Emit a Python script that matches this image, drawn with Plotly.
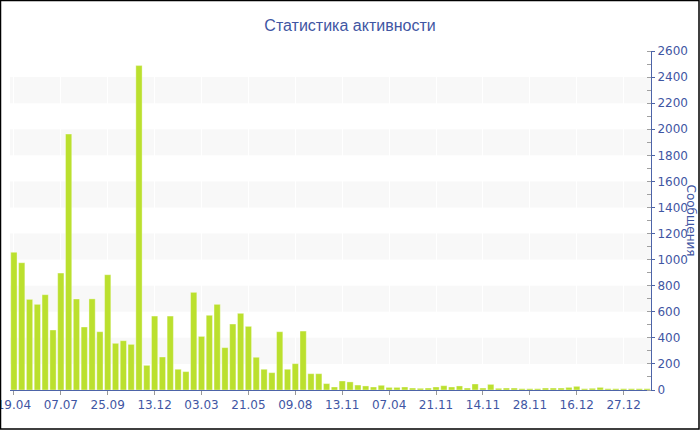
import plotly.graph_objects as go

# ---- data ----
bar_index = list(range(82))
messages = [1056, 976, 695, 657, 731, 460, 897, 1963, 698, 483,
            699, 447, 884, 358, 378, 350, 2488, 189, 567, 253,
            567, 159, 141, 749, 411, 573, 657, 325, 506, 588,
            488, 251, 159, 133, 447, 159, 202, 452, 125, 125,
            49, 23, 69, 62, 38, 31, 23, 36, 20, 20,
            23, 15, 13, 15, 23, 33, 23, 31, 15, 46,
            15, 43, 13, 15, 15, 10, 10, 10, 15, 15,
            15, 20, 28, 10, 13, 20, 10, 10, 10, 10,
            10, 10]
tick_positions = [0, 6, 12, 18, 24, 30, 36, 42, 48, 54, 60, 66, 72, 78]
tick_labels = ["19.04", "07.07", "25.09", "13.12", "03.03", "21.05", "09.08",
               "13.11", "07.04", "21.11", "14.11", "28.11", "16.12", "27.12"]
y_ticks = list(range(0, 2601, 200))

W, H = 700, 430
L, R, T, B = 10, 49, 51, 40
pw, ph = W - L - R, H - T - B

AXIS = "#4d64a8"
TEXT = "#3f56a3"
FONT = "DejaVu Sans"

fig = go.Figure()
fig.add_trace(go.Bar(
    x=bar_index, y=messages,
    marker=dict(color="#bbe02e", line=dict(color="rgba(255,255,255,0.6)", width=0.6)),
    hovertemplate="%{y}<extra></extra>",
))

shapes = []
# alternating bands
for i in range(1, len(y_ticks) - 1, 2):
    shapes.append(dict(type="rect", xref="paper", yref="y", x0=0, x1=1,
                       y0=y_ticks[i], y1=y_ticks[i + 1],
                       fillcolor="#f8f8f8", line=dict(width=0), layer="below"))
# outer border of the whole figure
shapes.append(dict(type="rect", xref="paper", yref="paper",
                   x0=(0.5 - L) / pw, x1=(699 - L) / pw,
                   y0=-(B - 1) / ph, y1=(ph + T - 0.5) / ph,
                   line=dict(color="black", width=1.5), fillcolor="rgba(0,0,0,0)",
                   layer="above"))

fig.update_layout(
    width=W, height=H,
    margin=dict(l=L, r=R, t=T, b=B, autoexpand=False),
    paper_bgcolor="white", plot_bgcolor="white",
    showlegend=False,
    bargap=0.2,
    font=dict(family=FONT, color=TEXT, size=12),
    title=dict(text="Статистика активности", x=0.5, xanchor="center",
               y=1 - 25 / H, yanchor="middle", automargin=False,
               font=dict(family="Liberation Sans", size=16, color=TEXT)),
    shapes=shapes,
    xaxis=dict(
        range=[-0.5, 81.5], automargin=False,
        tickmode="array", tickvals=tick_positions, ticktext=tick_labels,
        ticklabeloverflow="allow",
        showline=True, linecolor=AXIS, linewidth=1,
        ticks="outside", ticklen=4, tickcolor="#999999",
        showgrid=True, gridcolor="white", gridwidth=1,
        zeroline=False,
        tickfont=dict(family=FONT, size=12, color=TEXT),
    ),
    yaxis=dict(
        side="right", automargin=False,
        range=[0, 2600],
        tickmode="array", tickvals=y_ticks,
        ticklabeloverflow="allow",
        showline=True, linecolor=AXIS, linewidth=1,
        ticks="outside", ticklen=3, tickcolor=AXIS,
        minor=dict(ticks="inside", ticklen=4, tickcolor="#a0a0a0", dtick=100, showgrid=False),
        showgrid=False, zeroline=False,
        ticklabelstandoff=0,
        tickfont=dict(family=FONT, size=12, color=TEXT),
    ),
    annotations=[dict(text="Сообщения", xref="paper", yref="paper",
                      x=(691 - L) / pw, y=0.5, xanchor="center", yanchor="middle",
                      textangle=90, showarrow=False,
                      font=dict(family=FONT, size=12, color=TEXT))],
)

fig.write_html(
    "out.html",
    config={"displayModeBar": False},
    post_script="document.body.style.margin='0';document.body.style.overflow='hidden';",
)
